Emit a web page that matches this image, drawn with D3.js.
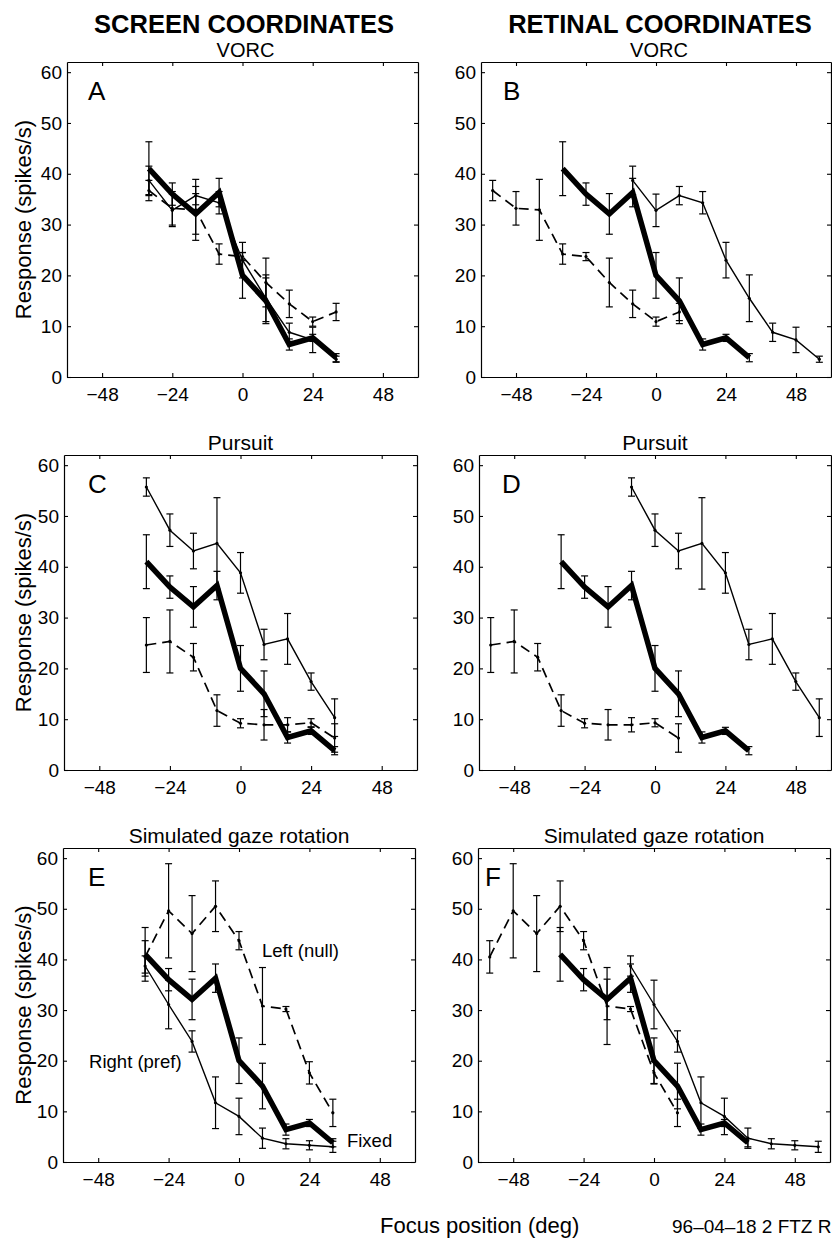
<!DOCTYPE html>
<html>
<head>
<meta charset="utf-8">
<script src="https://d3js.org/d3.v7.min.js"></script>
<style>
  body { margin: 0; background: #fff; }
  svg { display: block; }
</style>
</head>
<body>
<svg id="fig" width="832" height="1239"></svg>
<script>
// focus positions (deg) in screen coordinates
const positions = [-32, -24, -16, -8, 0, 8, 16, 24, 32];

// fixed gaze (thick line), same in every panel
const fixedMean = [41, 36, 32.1, 36.3, 20, 15, 6.4, 7.7, 3.8];
const fixedErr = [5.3, 2.2, 4, 2.8, 4.5, 4.5, 1.1, 0.7, 0.8];

// VORC
const vorcRightMean = [38.7, 32.8, 35.7, 34.3, 23, 15.5, 8.8, 7.3, 3.5];
const vorcRightErr = [2.8, 3.2, 1.8, 2.2, 3.5, 4.6, 1.8, 2.5, 0.6];
const vorcLeftMean = [36.7, 33.2, 32.9, 24.2, 23.7, 18.6, 14.4, 10.9, 12.8];
const vorcLeftErr = [2, 3.3, 6, 2, 0.8, 4.8, 2.7, 0.9, 1.7];

// Pursuit
const pursuitRightMean = [55.7, 47.2, 43.1, 44.6, 38.8, 24.7, 25.8, 17.4, 10.3];
const pursuitRightErr = [1.8, 3.2, 3.5, 9, 4, 3, 5, 1.7, 3.7];
const pursuitLeftMean = [24.6, 25.3, 22.2, 11.7, 9.2, 8.9, 8.9, 9.3, 6.3];
const pursuitLeftErr = [5.4, 6.2, 2.7, 3.1, 0.9, 3, 1.4, 0.8, 2.8];

// Simulated gaze rotation
const gazeRightMean = [38.7, 31.1, 23.8, 11.7, 9, 4.7, 3.6, 3.3, 3];
const gazeRightErr = [2, 4.8, 2.1, 5.1, 3.6, 2, 1, 0.9, 1.1];
const gazeLeftMean = [40.5, 49.6, 45.1, 50.5, 43.7, 30.8, 30.2, 17.6, 9.7];
const gazeLeftErr = [3.2, 9.3, 7.5, 5, 1.8, 7.6, 0.5, 2.2, 2.7];

// shift applied in retinal coordinates
const retinalShift = {fixed: 0, right: 24, left: -24};

const xTicks = [-48, -24, 0, 24, 48];
const yTicks = [0, 10, 20, 30, 40, 50, 60];

const font = "'Liberation Sans', Arial, Helvetica, sans-serif";

const conditions = {
  vorc: {right: [vorcRightMean, vorcRightErr], left: [vorcLeftMean, vorcLeftErr]},
  pursuit: {right: [pursuitRightMean, pursuitRightErr], left: [pursuitLeftMean, pursuitLeftErr]},
  gaze: {right: [gazeRightMean, gazeRightErr], left: [gazeLeftMean, gazeLeftErr]}
};

// panel boxes on the page
let panels = [
  {id: "A", cond: "vorc", retinal: false, x0: 67, x1: 418, y0: 62, y1: 377, lx: 21, ylabel: true},
  {id: "B", cond: "vorc", retinal: true, x0: 481, x1: 831, y0: 62, y1: 377, lx: 22},
  {id: "C", cond: "pursuit", retinal: false, x0: 64, x1: 417, y0: 455, y1: 770, lx: 24, ylabel: true},
  {id: "D", cond: "pursuit", retinal: true, x0: 479, x1: 831, y0: 455, y1: 770, lx: 23},
  {id: "E", cond: "gaze", retinal: false, x0: 63, x1: 415, y0: 848, y1: 1162, lx: 25, ylabel: true},
  {id: "F", cond: "gaze", retinal: true, x0: 478, x1: 830, y0: 848, y1: 1162, lx: 7}
];

const subtitles = {vorc: "VORC", pursuit: "Pursuit", gaze: "Simulated gaze rotation"};

// annotations in panel E (data coords)
const notes = [
  {text: "Left (null)", x: 7.8, y: 40.5},
  {text: "Right (pref)", x: -51.1, y: 18.6},
  {text: "Fixed", x: 36.8, y: 3}
];

let svg = d3.select("#fig");
svg.append("rect").attr("width", 832).attr("height", 1239).attr("fill", "#fff");

function make_series(mean, err, shift) {
  return positions.map((p, i) => ({x: p + shift, y: mean[i], e: err[i]}));
}

function style_axis(g) {
  g.attr("font-family", font).attr("font-size", 19);
  g.selectAll("path.domain").attr("stroke-width", 1.2);
  g.selectAll(".tick line").attr("stroke-width", 1.1);
}

function draw_series(g, scales, data, kind) {
  let line = d3.line().x(d => scales.x(d.x)).y(d => scales.y(d.y));
  let s = g.append("g");
  // error bars
  let eb = s.selectAll("g.eb").data(data).enter().append("g");
  eb.append("line")
    .attr("x1", d => scales.x(d.x)).attr("x2", d => scales.x(d.x))
    .attr("y1", d => scales.y(d.y - d.e)).attr("y2", d => scales.y(d.y + d.e));
  eb.append("line")
    .attr("x1", d => scales.x(d.x) - 3.5).attr("x2", d => scales.x(d.x) + 3.5)
    .attr("y1", d => scales.y(d.y - d.e)).attr("y2", d => scales.y(d.y - d.e));
  eb.append("line")
    .attr("x1", d => scales.x(d.x) - 3.5).attr("x2", d => scales.x(d.x) + 3.5)
    .attr("y1", d => scales.y(d.y + d.e)).attr("y2", d => scales.y(d.y + d.e));
  eb.selectAll("line").attr("stroke", "#000").attr("stroke-width", 1.2);

  s.append("path")
    .datum(data)
    .attr("d", line)
    .attr("fill", "none")
    .attr("stroke", "#000")
    .attr("stroke-linejoin", "miter")
    .attr("stroke-width", kind == "fixed" ? 5.5 : (kind == "left" ? 1.7 : 1.4))
    .attr("stroke-dasharray", kind == "left" ? "10,6" : null);

  if (kind != "fixed") {
    s.selectAll("circle").data(data).enter().append("circle")
      .attr("cx", d => scales.x(d.x)).attr("cy", d => scales.y(d.y))
      .attr("r", 1.6).attr("fill", "#000");
  }
}

function draw_panel(p) {
  let scales = {
    x: d3.scaleLinear().domain([-60, 60]).range([p.x0, p.x1]),
    y: d3.scaleLinear().domain([0, 62]).range([p.y1, p.y0])
  };
  let g = svg.append("g");

  // box with inward ticks on all sides
  g.append("g").attr("transform", `translate(0, ${p.y1})`)
    .call(d3.axisBottom(scales.x).tickValues(xTicks).tickSizeInner(-4).tickSizeOuter(0).tickPadding(11))
    .call(style_axis);
  g.append("g").attr("transform", `translate(0, ${p.y0})`)
    .call(d3.axisTop(scales.x).tickValues(xTicks).tickSizeInner(-4).tickSizeOuter(0).tickFormat(""))
    .call(style_axis);
  g.append("g").attr("transform", `translate(${p.x0}, 0)`)
    .call(d3.axisLeft(scales.y).tickValues(yTicks).tickSizeInner(-4).tickSizeOuter(0).tickPadding(5))
    .call(style_axis);
  g.append("g").attr("transform", `translate(${p.x1}, 0)`)
    .call(d3.axisRight(scales.y).tickValues(yTicks).tickSizeInner(-4).tickSizeOuter(0).tickFormat(""))
    .call(style_axis);

  let c = conditions[p.cond];
  let sh = p.retinal ? retinalShift : {fixed: 0, right: 0, left: 0};
  draw_series(g, scales, make_series(c.left[0], c.left[1], sh.left), "left");
  draw_series(g, scales, make_series(c.right[0], c.right[1], sh.right), "right");
  draw_series(g, scales, make_series(fixedMean, fixedErr, sh.fixed), "fixed");

  // panel letter
  g.append("text")
    .attr("x", p.x0 + p.lx).attr("y", p.y0 + 38)
    .attr("font-family", font).attr("font-size", 26)
    .text(p.id);

  // subtitle
  g.append("text")
    .attr("x", (p.x0 + p.x1) / 2 + (p.cond == "vorc" ? 3 : 0)).attr("y", p.y0 - 5.5)
    .attr("text-anchor", "middle")
    .attr("font-family", font).attr("font-size", p.cond == "vorc" ? 20 : 21)
    .text(subtitles[p.cond]);

  if (p.ylabel) {
    g.append("text")
      .attr("transform", `translate(31, ${(p.y0 + p.y1) / 2}) rotate(-90)`)
      .attr("text-anchor", "middle")
      .attr("font-family", font).attr("font-size", 22)
      .text("Response (spikes/s)");
  }

  if (p.id == "E") {
    g.selectAll("text.note").data(notes).enter().append("text")
      .attr("x", d => scales.x(d.x)).attr("y", d => scales.y(d.y))
      .attr("font-family", font).attr("font-size", 18.5)
      .text(d => d.text);
  }
}

panels.forEach(draw_panel);

// column headers
svg.append("text").attr("x", 244).attr("y", 33).attr("text-anchor", "middle")
  .attr("font-family", font).attr("font-weight", "bold").attr("font-size", 25.5)
  .text("SCREEN COORDINATES");
svg.append("text").attr("x", 660).attr("y", 33).attr("text-anchor", "middle")
  .attr("font-family", font).attr("font-weight", "bold").attr("font-size", 25.5)
  .text("RETINAL COORDINATES");

// bottom labels
svg.append("text").attr("x", 380).attr("y", 1233)
  .attr("font-family", font).attr("font-size", 22)
  .text("Focus position (deg)");
svg.append("text").attr("x", 672).attr("y", 1233)
  .attr("font-family", font).attr("font-size", 19)
  .text("96–04–18 2 FTZ R");
</script>
</body>
</html>
